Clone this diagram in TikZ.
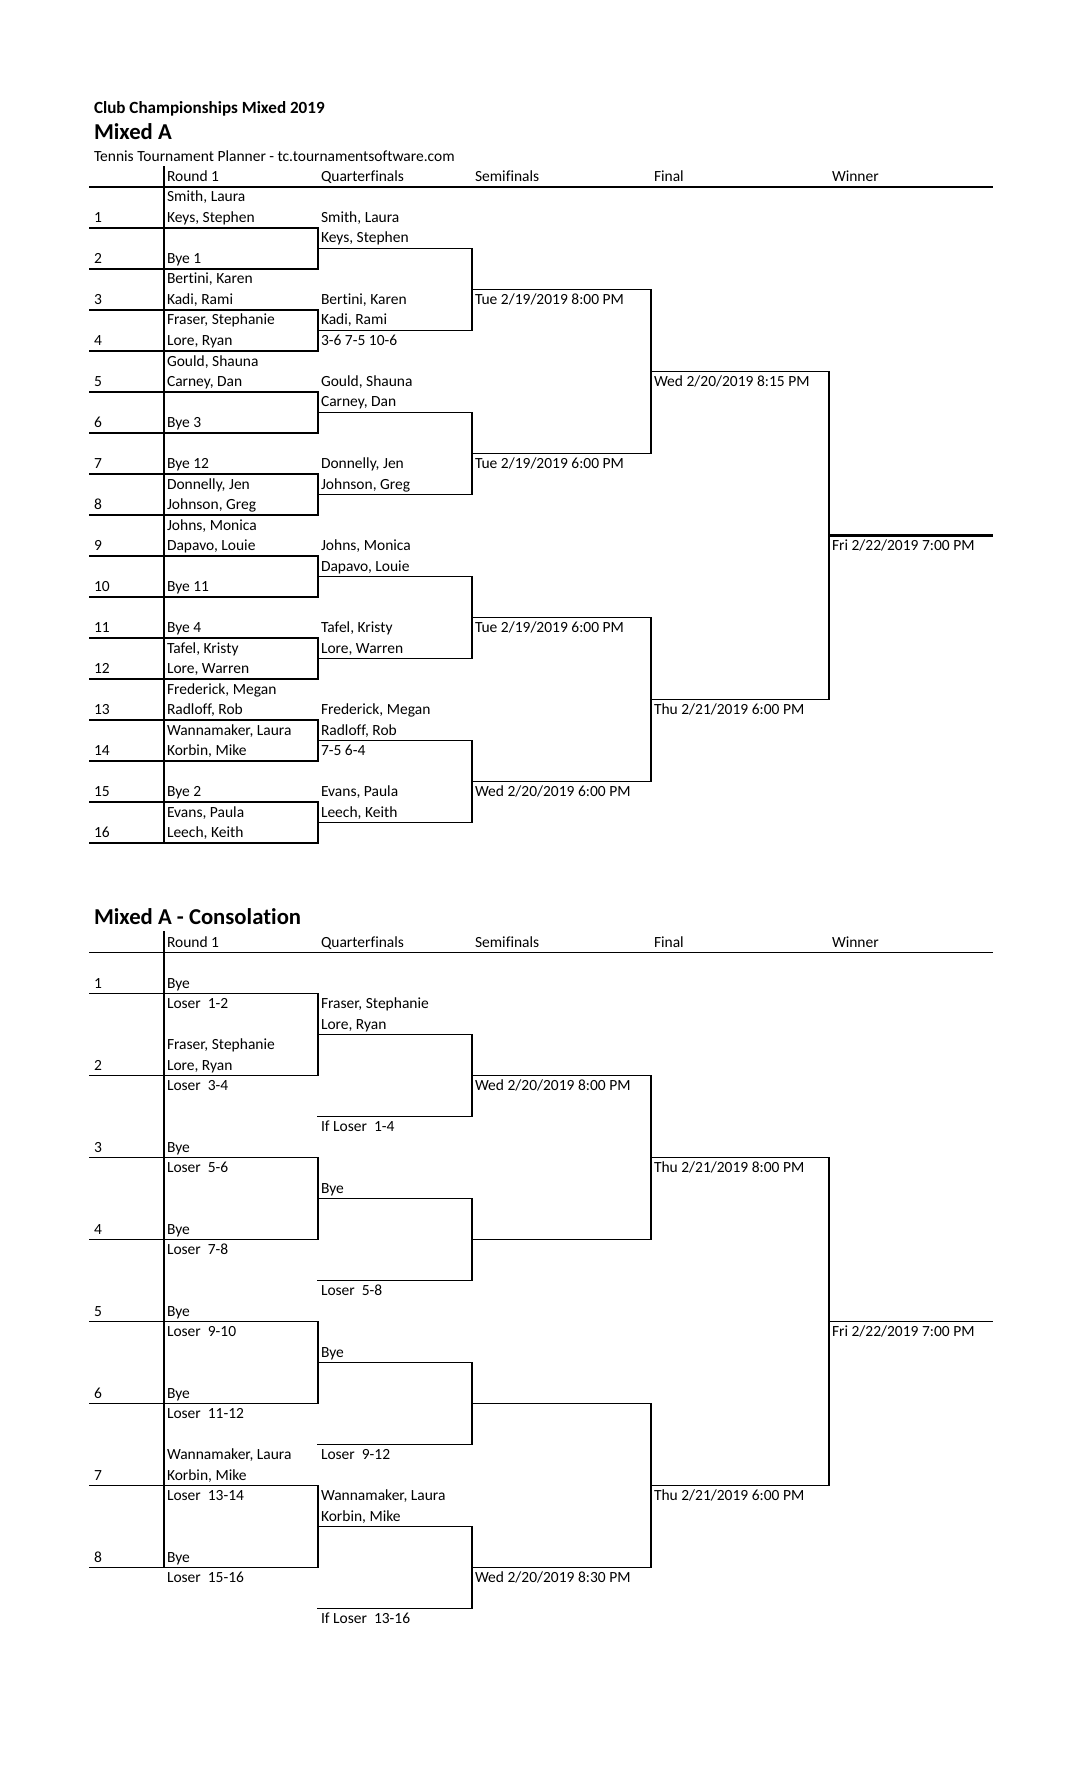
\documentclass[tikz,border=0pt]{standalone}
\usepackage{fontspec}
\setmainfont{Carlito}[Ligatures={NoCommon}]
\tikzset{
  ln/.style={line width=0.8pt, line cap=rect},
  wln/.style={line width=1.3pt, line cap=rect},
  lbl/.style={anchor=base west, inner sep=0pt, outer sep=0pt, font=\fontsize{7.75}{9}\selectfont},
  ttl/.style={anchor=base west, inner sep=0pt, outer sep=0pt, font=\bfseries\fontsize{8.55}{10}\selectfont},
  bigttl/.style={anchor=base west, inner sep=0pt, outer sep=0pt, font=\bfseries\fontsize{11.35}{13}\selectfont},
}
\begin{document}
\begin{tikzpicture}[x=0.5pt,y=-0.5pt]
\fill[white] (0,0) rectangle (1088,1792);
\useasboundingbox (0,0) rectangle (1088,1792);

% ---------------- titles
\node[ttl] (title) at (94,113.3) {Club Championships Mixed 2019};
\node[bigttl] (mixa) at (94,139.3) {Mixed A};
\node[lbl] (planner) at (94,161.7) {Tennis Tournament Planner - tc.tournamentsoftware.com};

% ---------------- upper bracket: headers
\foreach \x/\t/\n in {167/{Round 1}/r1,321/{Quarterfinals}/qf,475/{Semifinals}/sf,654/{Final}/fi,832/{Winner}/wi}
  {\node[lbl] (uh\n) at (\x,181.7) {\t};}
\draw[ln] (90,187) -- (992,187);
\draw[ln] (164,167) -- (164,843);
% row lines and R1 brackets
\foreach \k in {1,...,16}{\pgfmathsetmacro\y{187+41*\k}\draw[ln] (90,\y) -- (318,\y);}
\foreach \m in {1,...,8}{\pgfmathsetmacro\ya{187+82*\m-41}\pgfmathsetmacro\yb{187+82*\m}\draw[ln] (318,\ya) -- (318,\yb);}
% QF lines
\foreach \m in {1,...,8}{\pgfmathsetmacro\y{187+82*\m-20.5}\draw[ln] (318,\y) -- (472,\y);}
\foreach \j in {1,...,4}{\pgfmathsetmacro\ya{187+164*\j-102.5}\pgfmathsetmacro\yb{187+164*\j-20.5}\draw[ln] (472,\ya) -- (472,\yb);}
% SF lines
\foreach \j in {1,...,4}{\pgfmathsetmacro\y{187+164*\j-61.5}\draw[ln] (472,\y) -- (651,\y);}
\foreach \i in {1,2}{\pgfmathsetmacro\ya{187+328*\i-225.5}\pgfmathsetmacro\yb{187+328*\i-61.5}\draw[ln] (651,\ya) -- (651,\yb);}
% Final lines
\foreach \i in {1,2}{\pgfmathsetmacro\y{187+328*\i-143.5}\draw[ln] (651,\y) -- (829,\y);}
\draw[ln] (829,371.5) -- (829,699.5);
\draw[wln] (829,535.5) -- (992,535.5);

% numbers
\foreach \k in {1,...,16}{\pgfmathsetmacro\y{181.5+41*\k}\node[lbl] (un\k) at (94,\y) {\k};}
% R1 names
\foreach \s/\t in {0/{Smith, Laura},1/{Keys, Stephen},3/{Bye 1},4/{Bertini, Karen},5/{Kadi, Rami},6/{Fraser, Stephanie},7/{Lore, Ryan},8/{Gould, Shauna},9/{Carney, Dan},11/{Bye 3},13/{Bye 12},14/{Donnelly, Jen},15/{Johnson, Greg},16/{Johns, Monica},17/{Dapavo, Louie},19/{Bye 11},21/{Bye 4},22/{Tafel, Kristy},23/{Lore, Warren},24/{Frederick, Megan},25/{Radloff, Rob},26/{Wannamaker, Laura},27/{Korbin, Mike},29/{Bye 2},30/{Evans, Paula},31/{Leech, Keith}}
  {\pgfmathsetmacro\y{202+20.5*\s}\node[lbl] (ur\s) at (167,\y) {\t};}
% QF names
\foreach \s/\t in {1/{Smith, Laura},2/{Keys, Stephen},5/{Bertini, Karen},6/{Kadi, Rami},7/{3-6 7-5 10-6},9/{Gould, Shauna},10/{Carney, Dan},13/{Donnelly, Jen},14/{Johnson, Greg},17/{Johns, Monica},18/{Dapavo, Louie},21/{Tafel, Kristy},22/{Lore, Warren},25/{Frederick, Megan},26/{Radloff, Rob},27/{7-5 6-4},29/{Evans, Paula},30/{Leech, Keith}}
  {\pgfmathsetmacro\y{202+20.5*\s}\node[lbl] (uq\s) at (321,\y) {\t};}
% SF / Final / Winner
\foreach \s/\t in {5/{Tue 2/19/2019 8:00 PM},13/{Tue 2/19/2019 6:00 PM},21/{Tue 2/19/2019 6:00 PM},29/{Wed 2/20/2019 6:00 PM}}
  {\pgfmathsetmacro\y{202+20.5*\s}\node[lbl] (us\s) at (475,\y) {\t};}
\foreach \s/\t in {9/{Wed 2/20/2019 8:15 PM},25/{Thu 2/21/2019 6:00 PM}}
  {\pgfmathsetmacro\y{202+20.5*\s}\node[lbl] (uf\s) at (654,\y) {\t};}
\node[lbl] (uw) at (832,550.5) {Fri 2/22/2019 7:00 PM};

% ---------------- consolation
\node[bigttl] (cons) at (94,924.3) {Mixed A - Consolation};
\foreach \x/\t/\n in {167/{Round 1}/r1,321/{Quarterfinals}/qf,475/{Semifinals}/sf,654/{Final}/fi,832/{Winner}/wi}
  {\node[lbl] (ch\n) at (\x,947.2) {\t};}
\draw[ln] (90,952.5) -- (992,952.5);
\draw[ln] (164,931.7) -- (164,1567.5);
\foreach \k in {1,...,8}{\pgfmathsetmacro\y{952.5+82*\k-41}\draw[ln] (90,\y) -- (318,\y);}
\foreach \m in {1,...,4}{\pgfmathsetmacro\ya{952.5+164*\m-123}\pgfmathsetmacro\yb{952.5+164*\m-41}\draw[ln] (318,\ya) -- (318,\yb);}
\foreach \m in {1,...,4}{\pgfmathsetmacro\ya{952.5+164*\m-82}\pgfmathsetmacro\yb{952.5+164*\m}
  \draw[ln] (318,\ya) -- (472,\ya);
  \draw[ln] (318,\yb) -- (472,\yb);
  \draw[ln] (472,\ya) -- (472,\yb);}
\foreach \m in {1,...,4}{\pgfmathsetmacro\y{952.5+164*\m-41}\draw[ln] (472,\y) -- (651,\y);}
\foreach \i in {1,2}{\pgfmathsetmacro\ya{952.5+328*\i-205}\pgfmathsetmacro\yb{952.5+328*\i-41}\draw[ln] (651,\ya) -- (651,\yb);}
\foreach \i in {1,2}{\pgfmathsetmacro\y{952.5+328*\i-123}\draw[ln] (651,\y) -- (829,\y);}
\draw[ln] (829,1157.5) -- (829,1485.5);
\draw[ln] (829,1321.5) -- (992,1321.5);

\foreach \k in {1,...,8}{\pgfmathsetmacro\y{967.5+20.5*(4*\k-3)}\node[lbl] (cn\k) at (94,\y) {\k};}
\foreach \s/\t in {1/{Bye},2/{Loser\ \ 1-2},4/{Fraser, Stephanie},5/{Lore, Ryan},6/{Loser\ \ 3-4},9/{Bye},10/{Loser\ \ 5-6},13/{Bye},14/{Loser\ \ 7-8},17/{Bye},18/{Loser\ \ 9-10},21/{Bye},22/{Loser\ \ 11-12},24/{Wannamaker, Laura},25/{Korbin, Mike},26/{Loser\ \ 13-14},29/{Bye},30/{Loser\ \ 15-16}}
  {\pgfmathsetmacro\y{967.5+20.5*\s}\node[lbl] (cr\s) at (167,\y) {\t};}
\foreach \s/\t in {2/{Fraser, Stephanie},3/{Lore, Ryan},8/{If Loser\ \ 1-4},11/{Bye},16/{Loser\ \ 5-8},19/{Bye},24/{Loser\ \ 9-12},26/{Wannamaker, Laura},27/{Korbin, Mike},32/{If Loser\ \ 13-16}}
  {\pgfmathsetmacro\y{967.5+20.5*\s}\node[lbl] (cq\s) at (321,\y) {\t};}
\foreach \s/\t in {6/{Wed 2/20/2019 8:00 PM},30/{Wed 2/20/2019 8:30 PM}}
  {\pgfmathsetmacro\y{967.5+20.5*\s}\node[lbl] (cs\s) at (475,\y) {\t};}
\foreach \s/\t in {10/{Thu 2/21/2019 8:00 PM},26/{Thu 2/21/2019 6:00 PM}}
  {\pgfmathsetmacro\y{967.5+20.5*\s}\node[lbl] (cf\s) at (654,\y) {\t};}
\node[lbl] (cw) at (832,1336.5) {Fri 2/22/2019 7:00 PM};
\end{tikzpicture}
\end{document}
